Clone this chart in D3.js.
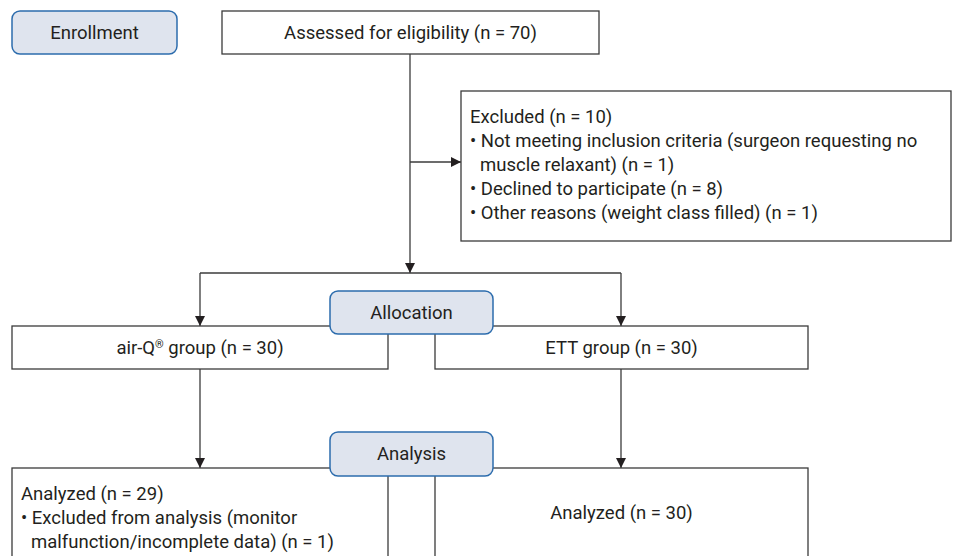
<!DOCTYPE html>
<html>
<head>
<meta charset="utf-8">
<script src="https://cdn.jsdelivr.net/npm/d3@7"></script>
<style>
  body { margin: 0; background: #fff; }
  text { font-family: Roboto, "Open Sans", sans-serif; font-size: 18.5px; fill: #231f20; }
</style>
</head>
<body>
<script>
// Flow diagram content
var stages = ["Enrollment", "Allocation", "Analysis"];
var assessedN = 70;
var excludedN = 10;
var excludedReasons = [
  ["Not meeting inclusion criteria (surgeon requesting no", "muscle relaxant) (n = 1)"],
  ["Declined to participate (n = 8)"],
  ["Other reasons (weight class filled) (n = 1)"]
];
var groups = ["air-Q\u00ae group", "ETT group"];
var allocatedN = [30, 30];
var analyzedN = [29, 30];
var analysisExcluded = [
  ["Excluded from analysis (monitor", "malfunction/incomplete data) (n = 1)"],
  []
];

var width = 959,
    height = 556;

var svg = d3.select("body").append("svg")
    .attr("width", width)
    .attr("height", height);

var defs = svg.append("defs");
defs.append("marker")
    .attr("id", "arrow")
    .attr("viewBox", "0 0 10 10")
    .attr("refX", 10).attr("refY", 5)
    .attr("markerWidth", 10).attr("markerHeight", 10)
    .attr("markerUnits", "userSpaceOnUse")
    .attr("orient", "auto")
  .append("path")
    .attr("d", "M0,0L10,5L0,10Z")
    .attr("fill", "#231f20");

var lineColor = "#3b3b3b";

// columns for the two arms
var armX = [200, 621];
var centerX = 410;

// connectors
var links = [
  { pts: [[centerX, 54], [centerX, 273]], arrow: true },
  { pts: [[centerX, 162], [461, 162]], arrow: true },
  { pts: [[armX[0], 273], [armX[1], 273]], arrow: false },
  { pts: [[armX[0], 273], [armX[0], 326]], arrow: true },
  { pts: [[armX[1], 273], [armX[1], 326]], arrow: true },
  { pts: [[armX[0], 369], [armX[0], 468]], arrow: true },
  { pts: [[armX[1], 369], [armX[1], 468]], arrow: true }
];

svg.append("g").selectAll("path")
    .data(links)
  .enter().append("path")
    .attr("d", function(d) { return d3.line()(d.pts); })
    .attr("fill", "none")
    .attr("stroke", lineColor)
    .attr("stroke-width", 1.3)
    .attr("marker-end", function(d) { return d.arrow ? "url(#arrow)" : null; });

// plain boxes
var boxes = [
  { x: 222, y: 11, w: 377, h: 43, lines: [{ t: "Assessed for eligibility (n = " + assessedN + ")", c: true }] },
  { x: 461, y: 91, w: 490, h: 150, lines: [{ t: "Excluded (n = " + excludedN + ")" }] },
  { x: 12, y: 326, w: 376, h: 43, lines: [{ t: groups[0] + " (n = " + allocatedN[0] + ")", c: true }] },
  { x: 435, y: 326, w: 373, h: 43, lines: [{ t: groups[1] + " (n = " + allocatedN[1] + ")", c: true }] },
  { x: 12, y: 468, w: 376, h: 100, lines: [{ t: "Analyzed (n = " + analyzedN[0] + ")" }] },
  { x: 435, y: 468, w: 373, h: 100, lines: [{ t: "Analyzed (n = " + analyzedN[1] + ")", c: true }], ty: 513 }
];

// bullet lists go under the header line
function addBullets(box, list) {
  list.forEach(function(item) {
    item.forEach(function(t, i) {
      box.lines.push({ t: (i === 0 ? "\u2022 " : "") + t, indent: i === 0 ? 0 : 10 });
    });
  });
}
addBullets(boxes[1], excludedReasons);
addBullets(boxes[4], [analysisExcluded[0]]);

// write a label, raising the registered sign
function writeLabel(sel, t) {
  var parts = t.split("\u00ae");
  parts.forEach(function(p, i) {
    if (i > 0) {
      sel.append("tspan").attr("font-size", "11px").attr("dy", "-6").text("\u00ae");
      sel.append("tspan").attr("dy", "6").text(p);
    } else {
      sel.append("tspan").text(p);
    }
  });
}

var boxG = svg.append("g").selectAll("g")
    .data(boxes)
  .enter().append("g");

boxG.append("rect")
    .attr("x", function(d) { return d.x; })
    .attr("y", function(d) { return d.y; })
    .attr("width", function(d) { return d.w; })
    .attr("height", function(d) { return d.h; })
    .attr("fill", "#fff")
    .attr("stroke", lineColor)
    .attr("stroke-width", 1.3);

boxG.each(function(d) {
  var g = d3.select(this);
  var step = 24;
  var y0 = d.ty || (d.lines[0].c ? d.y + d.h / 2 : d.y + 26);
  g.selectAll("text")
      .data(d.lines)
    .enter().append("text")
      .attr("x", function(l) { return l.c ? d.x + d.w / 2 : d.x + 9 + (l.indent || 0); })
      .attr("y", function(l, i) { return y0 + i * step + 6; })
      .attr("text-anchor", function(l) { return l.c ? "middle" : "start"; })
      .each(function(l) { writeLabel(d3.select(this), l.t); });
});

// stage labels (rounded blue boxes) drawn last so they sit on top
var stageBoxes = [
  { x: 12, y: 11, w: 165, h: 43 },
  { x: 330, y: 291, w: 163, h: 43 },
  { x: 330, y: 432, w: 163, h: 44 }
];

var stageG = svg.append("g").selectAll("g")
    .data(stages)
  .enter().append("g");

stageG.append("rect")
    .attr("x", function(d, i) { return stageBoxes[i].x; })
    .attr("y", function(d, i) { return stageBoxes[i].y; })
    .attr("width", function(d, i) { return stageBoxes[i].w; })
    .attr("height", function(d, i) { return stageBoxes[i].h; })
    .attr("rx", 8).attr("ry", 8)
    .attr("fill", "#dfe4ee")
    .attr("stroke", "#2c6cad")
    .attr("stroke-width", 1.5);

stageG.append("text")
    .attr("x", function(d, i) { return stageBoxes[i].x + stageBoxes[i].w / 2; })
    .attr("y", function(d, i) { return stageBoxes[i].y + stageBoxes[i].h / 2 + 6; })
    .attr("text-anchor", "middle")
    .text(function(d) { return d; });
</script>
</body>
</html>
